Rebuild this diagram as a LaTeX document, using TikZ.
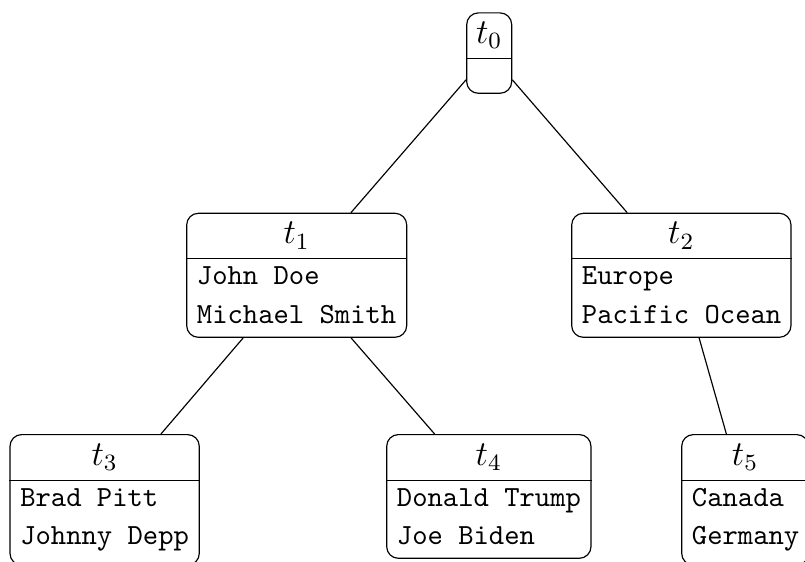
\documentclass[tikz,border=0pt]{standalone}
\newcommand\upx{0.34247pt}
\begin{document}
\begin{tikzpicture}[x=0.34247pt,y=-0.34247pt,
  box/.style={draw, rounded corners=4pt, inner sep=0pt, anchor=north, line width=0.4pt},
  head/.style={inner sep=0pt, font=\large},
  txt/.style={inner sep=0pt, anchor=base west, font=\ttfamily},
  link/.style={line width=0.4pt}]
\useasboundingbox (0,0) rectangle (805,561);
\clip (0,0) rectangle (805,561);
% nodes
\node[box, minimum width=45*\upx,    minimum height=80.4*\upx]  (t0) at (489.2,12.3) {};
\node[box, minimum width=220*\upx,   minimum height=124*\upx]   (t1) at (296.7,212.7) {};
\node[box, minimum width=219.3*\upx, minimum height=124*\upx]   (t2) at (681.35,212.7) {};
\node[box, minimum width=189.3*\upx, minimum height=130.5*\upx] (t3) at (104.65,434) {};
\node[box, minimum width=204.3*\upx, minimum height=123.7*\upx] (t4) at (488.85,434) {};
\node[box, minimum width=126.7*\upx, minimum height=130.5*\upx] (t5) at (745.05,434) {};
% split lines
\coordinate (s0) at (0,58.3);
\coordinate (s1) at (0,258.5);
\coordinate (s3) at (0,480.3);
\draw[link] (t0.west |- s0) -- (t0.east |- s0);
\draw[link] (t1.west |- s1) -- (t1.east |- s1);
\draw[link] (t2.west |- s1) -- (t2.east |- s1);
\draw[link] (t3.west |- s3) -- (t3.east |- s3);
\draw[link] (t4.west |- s3) -- (t4.east |- s3);
\draw[link] (t5.west |- s3) -- (t5.east |- s3);
% headers
\coordinate (c0) at (0,35.3);
\coordinate (c1) at (0,235.6);
\coordinate (c3) at (0,457.2);
\node[head] (h0) at (t0.north |- c0) {$t_0$};
\node[head] (h1) at (t1.north |- c1) {$t_1$};
\node[head] (h2) at (t2.north |- c1) {$t_2$};
\node[head] (h3) at (t3.north |- c3) {$t_3$};
\node[head] (h4) at (t4.north |- c3) {$t_4$};
\node[head] (h5) at (t5.north |- c3) {$t_5$};
% body texts
\node[txt] (a1) at (196.4,284.5) {John Doe};
\node[txt] (b1) at (196.4,323)   {Michael Smith};
\node[txt] (a2) at (581.4,284.5) {Europe};
\node[txt] (b2) at (581.4,323)   {Pacific Ocean};
\node[txt] (a3) at (19.7,506.5)  {Brad Pitt};
\node[txt] (b3) at (19.7,544.5)  {Johnny Depp};
\node[txt] (a4) at (396.4,506.5) {Donald Trump};
\node[txt] (b4) at (396.4,544.5) {Joe Biden};
\node[txt] (a5) at (691.4,506.5) {Canada};
\node[txt] (b5) at (691.4,544.5) {Germany};
% connectors
\draw[link] (t0) -- (t1);
\draw[link] (t0) -- (t2);
\draw[link] (t1) -- (t3);
\draw[link] (t1) -- (t4);
\draw[link] (t2) -- (t5);
\end{tikzpicture}
\end{document}
